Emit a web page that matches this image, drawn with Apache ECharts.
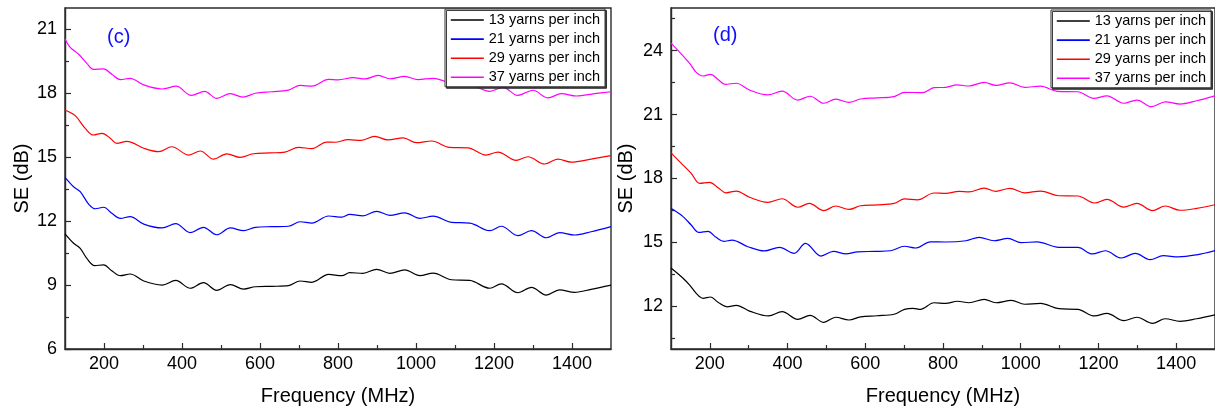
<!DOCTYPE html>
<html>
<head>
<meta charset="utf-8">
<title>SE vs Frequency</title>
<script src="https://cdn.jsdelivr.net/npm/echarts@6.0.0/dist/echarts.min.js"></script>
<style>
  html, body { margin: 0; padding: 0; background: #fff; }
  #chart { width: 1215px; height: 412px; }
</style>
</head>
<body>
<div id="chart"></div>
<script>
// Shielding effectiveness (dB) against frequency (MHz), panels (c) and (d)
const seriesNames = ['13 yarns per inch', '21 yarns per inch', '29 yarns per inch', '37 yarns per inch'];

// Axis ticks
const freqMajor = [200, 400, 600, 800, 1000, 1200, 1400];
const freqMinor = [300, 500, 700, 900, 1100, 1300];
const seMajorC = [6, 9, 12, 15, 18, 21];
const seMinorC = [7.5, 10.5, 13.5, 16.5, 19.5];
const seMajorD = [12, 15, 18, 21, 24];
const seMinorD = [10.5, 13.5, 16.5, 19.5, 22.5, 25.5];

// Panel (c): [frequency, SE]
const c13 = [[100,11.4],[122,10.96],[139,10.72],[156,10.25],[176,9.91],[199,9.95],[220,9.67],[242,9.44],[267,9.52],[302,9.19],[349,9.0],[384,9.22],[421,8.85],[455,9.11],[489,8.75],[524,9.02],[558,8.81],[588,8.92],[630,8.94],[673,8.97],[703,9.19],[733,9.13],[776,9.5],[810,9.44],[830,9.58],[864,9.55],[899,9.74],[933,9.55],[971,9.71],[1010,9.44],[1044,9.56],[1091,9.25],[1138,9.22],[1189,8.85],[1219,9.06],[1261,8.64],[1296,8.89],[1334,8.53],[1368,8.77],[1407,8.66],[1449,8.8],[1500,9.0]];
const c21 = [[100,14.05],[122,13.61],[139,13.38],[161,12.79],[178,12.58],[199,12.65],[220,12.37],[242,12.13],[267,12.21],[302,11.86],[349,11.68],[384,11.88],[421,11.46],[455,11.71],[489,11.36],[524,11.68],[558,11.55],[588,11.71],[630,11.74],[673,11.76],[703,11.97],[733,11.91],[776,12.24],[810,12.19],[830,12.32],[864,12.25],[899,12.46],[933,12.27],[971,12.39],[1010,12.13],[1044,12.23],[1091,11.94],[1138,11.91],[1189,11.55],[1219,11.76],[1261,11.32],[1296,11.55],[1334,11.22],[1368,11.46],[1407,11.35],[1449,11.5],[1500,11.74]];
const c29 = [[100,17.2],[126,16.95],[152,16.35],[173,16.04],[195,16.12],[216,15.89],[233,15.65],[259,15.74],[302,15.42],[340,15.26],[374,15.49],[417,15.1],[447,15.29],[481,14.91],[515,15.16],[549,14.99],[583,15.16],[625,15.2],[664,15.24],[699,15.46],[733,15.4],[771,15.71],[792,15.7],[826,15.82],[860,15.79],[894,15.98],[928,15.81],[967,15.91],[1001,15.68],[1040,15.76],[1086,15.46],[1133,15.44],[1180,15.1],[1210,15.24],[1257,14.85],[1287,15.02],[1330,14.68],[1364,14.91],[1398,14.77],[1449,14.91],[1500,15.07]];
const c37 = [[100,20.55],[114,20.14],[135,19.83],[156,19.4],[173,19.12],[199,19.14],[220,18.89],[242,18.64],[267,18.7],[302,18.39],[349,18.2],[385,18.33],[424,17.9],[458,18.09],[489,17.76],[524,17.98],[556,17.82],[588,18.0],[630,18.07],[673,18.15],[703,18.37],[733,18.33],[776,18.65],[800,18.63],[839,18.73],[869,18.67],[903,18.84],[933,18.68],[971,18.79],[1005,18.64],[1044,18.7],[1104,18.42],[1133,18.42],[1159,18.26],[1189,18.09],[1223,18.28],[1261,17.9],[1300,18.14],[1338,17.78],[1373,17.98],[1411,17.87],[1458,17.98],[1500,18.07]];

// Panel (d): [frequency, SE]
const d13 = [[100,13.8],[131,13.32],[148,13.0],[165,12.61],[182,12.38],[202,12.44],[221,12.19],[244,11.98],[268,12.05],[302,11.78],[351,11.55],[386,11.75],[426,11.39],[458,11.58],[493,11.25],[524,11.49],[558,11.36],[588,11.51],[630,11.56],[674,11.63],[701,11.86],[723,11.91],[742,11.86],[777,12.17],[807,12.14],[837,12.24],[867,12.17],[906,12.33],[936,12.17],[976,12.28],[1010,12.1],[1051,12.14],[1098,11.89],[1147,11.86],[1190,11.55],[1222,11.67],[1265,11.33],[1299,11.49],[1339,11.2],[1372,11.42],[1410,11.3],[1453,11.42],[1500,11.6]];
const d21 = [[100,16.6],[131,16.21],[152,15.82],[172,15.47],[195,15.52],[216,15.24],[236,15.05],[257,15.11],[298,14.8],[340,14.6],[379,14.77],[417,14.49],[446,14.96],[486,14.36],[518,14.58],[550,14.46],[580,14.56],[625,14.58],[665,14.61],[701,14.82],[729,14.74],[768,15.03],[807,15.02],[859,15.08],[893,15.24],[931,15.08],[967,15.19],[1001,14.99],[1042,15.03],[1098,14.77],[1147,14.77],[1184,14.46],[1218,14.61],[1259,14.27],[1295,14.49],[1333,14.19],[1367,14.38],[1406,14.32],[1453,14.42],[1500,14.62]];
const d29 = [[100,19.2],[131,18.63],[152,18.24],[174,17.77],[199,17.82],[221,17.57],[242,17.33],[268,17.41],[302,17.12],[349,16.88],[386,17.05],[426,16.65],[456,16.83],[493,16.49],[524,16.71],[558,16.55],[588,16.72],[630,16.76],[674,16.83],[701,17.04],[734,17.0],[777,17.32],[807,17.3],[841,17.4],[867,17.37],[906,17.55],[936,17.4],[972,17.54],[1010,17.33],[1051,17.41],[1098,17.19],[1147,17.18],[1190,16.85],[1222,17.02],[1265,16.66],[1299,16.83],[1339,16.49],[1372,16.71],[1410,16.51],[1453,16.6],[1500,16.77]];
const d37 = [[100,24.35],[131,23.75],[148,23.4],[165,22.98],[182,22.81],[202,22.89],[221,22.65],[239,22.42],[268,22.47],[302,22.15],[349,21.92],[386,22.1],[426,21.68],[458,21.86],[493,21.53],[524,21.72],[558,21.57],[588,21.73],[630,21.78],[674,21.84],[701,22.04],[747,22.03],[777,22.26],[807,22.28],[837,22.39],[867,22.34],[906,22.51],[936,22.37],[972,22.49],[1010,22.28],[1051,22.33],[1094,22.09],[1147,22.07],[1188,21.76],[1222,21.88],[1265,21.53],[1299,21.68],[1337,21.37],[1372,21.6],[1410,21.49],[1453,21.65],[1500,21.88]];

const lineColors = ['#000000', '#0000ff', '#ff0000', '#ff00ff'];
const FONT = 'Liberation Sans, Arial, sans-serif';
const AXIS_COLOR = '#2b2b2b';
const plainNumber = v => String(v);

function xAxes(gridIndex) {
  const base = {
    type: 'value', gridIndex, min: 100, max: 1500, position: 'bottom',
    splitLine: { show: false }
  };
  return [
    Object.assign({}, base, {
      name: 'Frequency (MHz)', nameLocation: 'middle', nameGap: 37,
      nameTextStyle: { fontSize: 20, fontFamily: FONT, color: '#000' },
      axisLine: { show: true, lineStyle: { color: AXIS_COLOR, width: 1.4 } },
      axisTick: { show: true, inside: true, length: 6, customValues: freqMajor, lineStyle: { color: AXIS_COLOR, width: 1.2 } },
      axisLabel: { customValues: freqMajor, formatter: plainNumber, margin: 6, fontSize: 18, fontFamily: FONT, color: '#000' }
    }),
    Object.assign({}, base, {
      axisLine: { show: false },
      axisTick: { show: true, inside: true, length: 4, customValues: freqMinor, lineStyle: { color: AXIS_COLOR, width: 1.2 } },
      axisLabel: { show: false }
    })
  ];
}

function yAxes(gridIndex, min, max, majors, minors, gap) {
  const base = {
    type: 'value', gridIndex, min, max, position: 'left',
    splitLine: { show: false }
  };
  return [
    Object.assign({}, base, {
      name: 'SE (dB)', nameLocation: 'middle', nameGap: gap,
      nameTextStyle: { fontSize: 20, fontFamily: FONT, color: '#000' },
      axisLine: { show: true, lineStyle: { color: AXIS_COLOR, width: 1.4 } },
      axisTick: { show: true, inside: true, length: 6, customValues: majors, lineStyle: { color: AXIS_COLOR, width: 1.2 } },
      axisLabel: { customValues: majors, formatter: plainNumber, margin: 8, fontSize: 18, fontFamily: FONT, color: '#000' }
    }),
    Object.assign({}, base, {
      axisLine: { show: false },
      axisTick: { show: true, inside: true, length: 4, customValues: minors, lineStyle: { color: AXIS_COLOR, width: 1.2 } },
      axisLabel: { show: false }
    })
  ];
}

function panelSeries(datasets, xIndex, yIndex) {
  return datasets.map((data, i) => ({
    type: 'line', name: seriesNames[i], data,
    xAxisIndex: xIndex, yAxisIndex: yIndex,
    symbol: 'none', smooth: 0.35,
    lineStyle: { color: lineColors[i], width: 1.2 },
    itemStyle: { color: lineColors[i] },
    emphasis: { disabled: true }
  }));
}

function legendAt(left, top) {
  return {
    data: seriesNames, orient: 'vertical', left, top,
    itemWidth: 33, itemHeight: 14, itemGap: 4.1,
    padding: [3.5, 5, 2, 5],
    backgroundColor: '#ffffff', borderColor: '#333', borderWidth: 1,
    shadowColor: 'rgba(40,40,40,0.9)', shadowBlur: 0, shadowOffsetX: 1.5, shadowOffsetY: 1.5,
    selectedMode: false,
    // line sample only, no marker
    itemStyle: { opacity: 0 },
    lineStyle: { width: 1.6 },
    textStyle: { fontSize: 14.5, lineHeight: 14, fontFamily: FONT, color: '#000' }
  };
}

const chart = echarts.init(document.getElementById('chart'), null, { renderer: 'canvas' });
chart.setOption({
  animation: false,
  backgroundColor: '#ffffff',
  grid: [
    { left: 65, top: 8, width: 546, height: 341, show: true, borderColor: AXIS_COLOR, borderWidth: 1.4, backgroundColor: 'transparent' },
    { left: 671, top: 8, width: 545, height: 341, show: true, borderColor: AXIS_COLOR, borderWidth: 1.4, backgroundColor: 'transparent' }
  ],
  xAxis: [...xAxes(0), ...xAxes(1)],
  yAxis: [...yAxes(0, 6, 22, seMajorC, seMinorC, 33), ...yAxes(1, 10, 26, seMajorD, seMinorD, 35)],
  legend: [legendAt(445, 9), legendAt(1051, 10)],
  series: [
    ...panelSeries([c13, c21, c29, c37], 0, 0),
    ...panelSeries([d13, d21, d29, d37], 2, 2)
  ],
  graphic: [
    { type: 'text', left: 107, top: 27, style: { text: '(c)', fill: '#1010ff', font: '20px ' + FONT } },
    { type: 'text', left: 713, top: 25, style: { text: '(d)', fill: '#1010ff', font: '20px ' + FONT } }
  ]
});
</script>
</body>
</html>
